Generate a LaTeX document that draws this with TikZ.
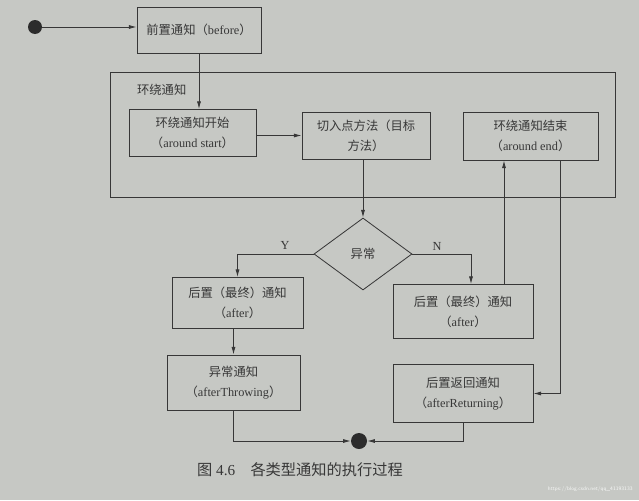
\documentclass[tikz,border=0pt]{standalone}
\usepackage{fontspec}
\setmainfont{Liberation Serif}
\newfontfamily\cjk{Noto Sans CJK SC}
\usetikzlibrary{arrows.meta,shapes.geometric}
\definecolor{paper}{RGB}{198,200,196}
\definecolor{ink}{RGB}{55,55,55}
\newcommand{\zh}[1]{{\cjk #1}}
\begin{document}
\begin{tikzpicture}[x=0.03cm,y=-0.03cm,
  box/.style={draw=ink, line width=0.7pt, inner sep=0pt, align=center, text=ink,
    font=\fontsize{10.5}{17}\selectfont},
  arr/.style={draw=ink, line width=0.7pt, -{Latex[length=6.5pt,width=3.4pt]}},
  dot/.style={circle, fill=ink!80!black, inner sep=0pt}]
\fill[paper] (0,0) rectangle (639,500);
\useasboundingbox (0,0) rectangle (639,500);

% outer group
\node[draw=ink, line width=0.7pt, inner sep=0pt, minimum width={505*0.03cm}, minimum height={125*0.03cm}] (around) at (362.5,134.5) {};
\node[text=ink, anchor=west, font=\fontsize{10.5}{12}\selectfont] (aroundlbl) at (133,90) {\zh{环绕通知}};

\node[dot, minimum size={14*0.03cm}] (start) at (35,27) {};
\node[box, minimum width={124*0.03cm}, minimum height={46*0.03cm}] (before) at (199,30) {\zh{前置通知（}before\zh{）}};

\node[box, minimum width={127*0.03cm}, minimum height={47*0.03cm}] (astart) at (192.5,133) {\zh{环绕通知开始}\\\zh{（}around start\zh{）}};
\node[box, minimum width={128*0.03cm}, minimum height={47*0.03cm}] (cut) at (366,135.5) {\zh{切入点方法（目标}\\\zh{方法）}};
\node[box, minimum width={135*0.03cm}, minimum height={48*0.03cm}] (aend) at (530.5,136) {\zh{环绕通知结束}\\\zh{（}around end\zh{）}};

\node[box, shape=diamond, minimum width={98*0.03cm}, minimum height={72*0.03cm}] (exc) at (363,254) {\zh{异常}};

\node[box, minimum width={131*0.03cm}, minimum height={51*0.03cm}] (afterL) at (237.5,303) {\zh{后置（最终）通知}\\\zh{（}after\zh{）}};
\node[box, minimum width={133*0.03cm}, minimum height={55*0.03cm}] (throw) at (233.5,382.5) {\zh{异常通知}\\\zh{（}afterThrowing\zh{）}};
\node[box, minimum width={140*0.03cm}, minimum height={54*0.03cm}] (afterR) at (463,311.5) {\zh{后置（最终）通知}\\\zh{（}after\zh{）}};
\node[box, minimum width={140*0.03cm}, minimum height={58*0.03cm}] (ret) at (463,393.5) {\zh{后置返回通知}\\\zh{（}afterReturning\zh{）}};

\node[dot, minimum size={16*0.03cm}] (end) at (359,441) {};

\coordinate (nx) at (471,0);
\coordinate (upx) at (504,0);
\coordinate (dnx) at (560,0);

\draw[arr] (start) -- (start -| before.west);
\draw[arr] (before.south) -- (before.south |- astart.north);
\draw[arr] (astart.east |- cut.west) -- (cut.west);
\draw[arr] (exc.north |- cut.south) -- (exc.north);
\draw[arr] (exc.west) -| (afterL.north);
\draw[arr] (exc.east) -| (nx |- afterR.north);
\draw[arr] (upx |- afterR.north) -- (upx |- aend.south);
\draw[arr] (dnx |- aend.south) |- (ret.east);
\draw[arr] (throw.north |- afterL.south) -- (throw.north);
\draw[arr] (throw.south) |- (end.west);
\draw[arr] (ret.south) |- (end.east);

\node[text=ink, font=\fontsize{10.5}{12}\selectfont] (ylbl) at (285,245) {Y};
\node[text=ink, font=\fontsize{10.5}{12}\selectfont] (nlbl) at (437,246) {N};

\node[text=ink, font=\fontsize{13}{15}\selectfont] (cap) at (300,470) {\zh{图} 4.6\hspace{1em}\zh{各类型通知的执行过程}};
\node[text=white!85!paper, font=\fontsize{4.5}{5}\sffamily, anchor=east, inner sep=1pt] (wm) at (634,489) {https://blog.csdn.net/qq\_41193133};
\end{tikzpicture}
\end{document}
